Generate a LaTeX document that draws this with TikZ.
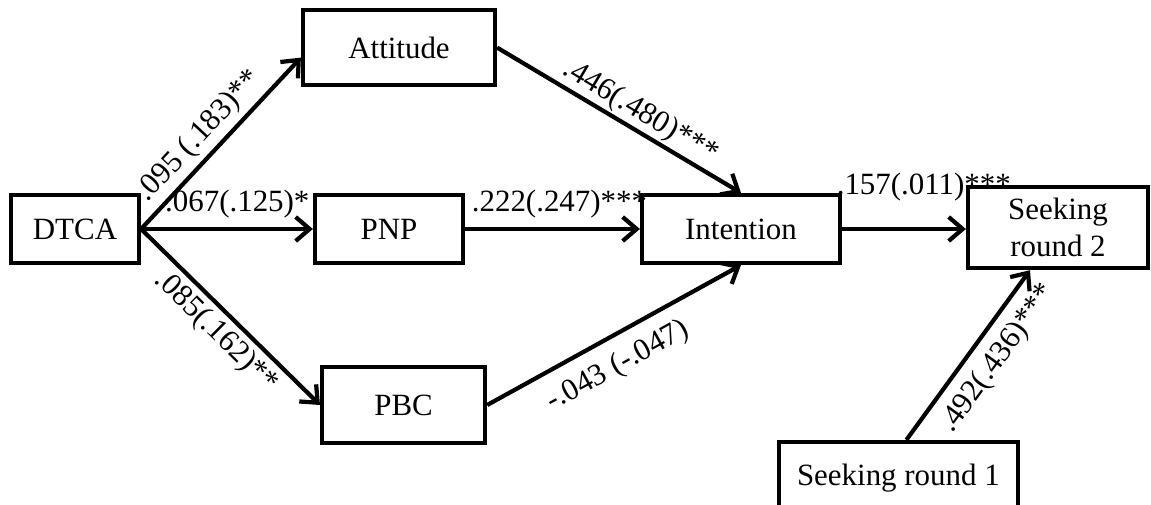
\documentclass[tikz,border=0pt]{standalone}
\usepackage{fontspec}
\setmainfont{Liberation Serif}
\usetikzlibrary{arrows.meta}

\begin{document}
\begin{tikzpicture}[>={Straight Barb[length=0.35cm,width=0.6cm]},
    every node/.style={font=\fontsize{22}{26}\selectfont},
    construct/.style={draw, line width=3pt, align=center, inner sep=2pt, minimum height=1.7cm},
    link/.style={->, line width=3pt}]
    \useasboundingbox (0,0) rectangle (28.775,12.6);
    \node[construct, minimum width=3.2cm] (DTCA) at (1.875,6.875) {DTCA};
    \node[construct, minimum width=4.8cm, minimum height=1.875cm] (Att) at (9.975,11.41) {Attitude};
    \node[construct, minimum width=3.7cm] (PNP) at (9.725,6.875) {PNP};
    \node[construct, minimum width=4.075cm, minimum height=1.9cm] (PBC) at (10.09,2.475) {PBC};
    \node[construct, minimum width=4.95cm] (Int) at (18.525,6.875) {Intention};
    \node[construct, minimum width=4.5cm, minimum height=2.025cm] (SR2) at (26.45,6.91) {Seeking\\round 2};
    \node[construct, minimum width=5.975cm, minimum height=1.8cm] (SR1) at (22.46,0.65) {Seeking round 1};
    % paths from DTCA
    \draw[link] (DTCA.east) -- node[pos=0.46, sloped, above] {.095 (.183)**} ([yshift=-0.25cm]Att.west);
    \draw[link] (DTCA.east) -- node[pos=0.56, above=3pt] {.067(.125)*} (PNP.west);
    \draw[link] (DTCA.east) -- node[pos=0.5, sloped, below] {.085(.162)**} (PBC.west);
    % paths to intention
    \draw[link] (Att.east) -- node[pos=0.55, sloped, above=-2pt] {.446(.480)***} (Int.north);
    \draw[link] (PNP.east) -- node[pos=0.54, above=3pt] {.222(.247)***} (Int.west);
    \draw[link] (PBC.east) -- node[pos=0.46, sloped, below=6pt] {-.043 (-.047)} (Int.south);
    % paths to seeking round 2
    \draw[link] (Int.east) -- node[pos=0.66, above=15pt] {.157(.011)***} (Int.east -| SR2.west);
    \draw[link] ([xshift=0.2cm]SR1.north) -- node[pos=0.57, sloped, below=4pt] {.492(.436)***} ([xshift=-0.7cm]SR2.south);
\end{tikzpicture}
\end{document}
